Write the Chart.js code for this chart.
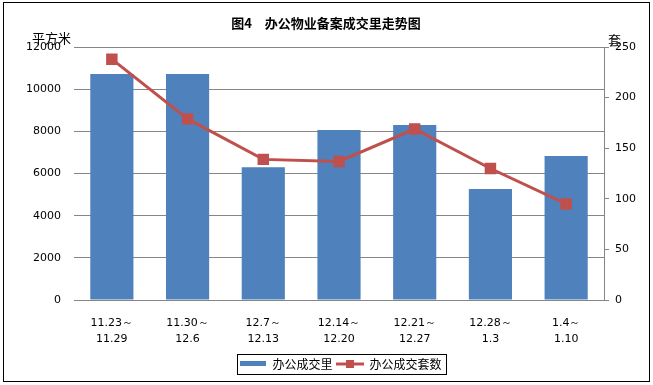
<!DOCTYPE html>
<html>
<head>
<meta charset="utf-8">
<script src="https://cdn.jsdelivr.net/npm/chart.js@4/dist/chart.umd.min.js"></script>
<style>
  html, body { margin: 0; padding: 0; background: #fff; }
  #wrap { width: 653px; height: 385px; position: relative; }
</style>
</head>
<body>
<div id="wrap"><canvas id="officeChart" width="653" height="385"></canvas></div>
<script>
const weeks = [
    ['11.23～', '11.29'],
    ['11.30～', '12.6'],
    ['12.7～', '12.13'],
    ['12.14～', '12.20'],
    ['12.21～', '12.27'],
    ['12.28～', '1.3'],
    ['1.4～', '1.10']
];
const areaSold = [10720, 10720, 6300, 8060, 8300, 5270, 6830];
const unitsSold = [238, 179, 139, 137, 169, 130, 95];
const leftTicks = [0, 2000, 4000, 6000, 8000, 10000, 12000];
const rightTicks = [0, 50, 100, 150, 200, 250];

const cnFont = '"Noto Sans CJK SC", "DejaVu Sans", sans-serif';
const numFont = '"DejaVu Sans", sans-serif';
const legendShift = 14;

function swatch(w, h, draw) {
    const c = document.createElement('canvas');
    c.width = w;
    c.height = h;
    draw(c.getContext('2d'));
    return c;
}
const barIcon = swatch(26, 6, ctx => {
    ctx.fillStyle = '#4F81BD';
    ctx.fillRect(0, 0, 26, 5);
});
const lineIcon = swatch(28, 10, ctx => {
    ctx.strokeStyle = '#C0504D';
    ctx.lineWidth = 3;
    ctx.beginPath();
    ctx.moveTo(0, 5);
    ctx.lineTo(28, 5);
    ctx.stroke();
    ctx.fillStyle = '#C0504D';
    ctx.fillRect(10, 1, 8, 8);
});

const decorations = {
    id: 'decorations',
    afterLayout(chart) {
        // the legend sits a bit right of centre in the original
        chart.legend.left += legendShift;
        chart.legend.right += legendShift;
    },
    afterDraw(chart) {
        const ctx = chart.ctx;
        ctx.save();
        // outer frame
        ctx.strokeStyle = '#000';
        ctx.lineWidth = 1;
        ctx.strokeRect(3.5, 2.5, 646, 379);
        // title
        ctx.fillStyle = '#000';
        ctx.font = 'bold 13px ' + cnFont;
        ctx.textAlign = 'center';
        ctx.textBaseline = 'middle';
        ctx.fillText('图4　办公物业备案成交里走势图', 326, 23);
        // axis unit labels
        ctx.font = '13px ' + cnFont;
        ctx.textAlign = 'left';
        ctx.fillText('平方米', 32, 38);
        ctx.fillText('套', 608, 40);
        // legend frame around the items only
        const boxes = chart.legend.legendHitBoxes;
        if (boxes && boxes.length) {
            const l = Math.min(...boxes.map(b => b.left)) - 2;
            const r = Math.max(...boxes.map(b => b.left + b.width)) + 5;
            const t = Math.min(...boxes.map(b => b.top)) - 4;
            ctx.strokeRect(Math.round(l) + 0.5, Math.round(t) + 0.5, Math.round(r - l), 20);
        }
        ctx.restore();
    }
};

new Chart(document.getElementById('officeChart'), {
    data: {
        labels: weeks,
        datasets: [{
            type: 'line',
            label: '办公成交套数',
            data: unitsSold,
            yAxisID: 'yRight',
            borderColor: '#C0504D',
            backgroundColor: '#C0504D',
            borderWidth: 3,
            pointStyle: 'rect',
            pointRadius: 6,
            pointHoverRadius: 6,
            tension: 0,
            order: 0
        }, {
            type: 'bar',
            label: '办公成交里',
            data: areaSold,
            yAxisID: 'yLeft',
            backgroundColor: '#4F81BD',
            categoryPercentage: 1,
            barPercentage: 0.57,
            order: 1
        }]
    },
    options: {
        responsive: false,
        animation: false,
        layout: {
            padding: { top: 47, left: 0, right: 0, bottom: 5 }
        },
        plugins: {
            title: { display: false },
            tooltip: { enabled: false },
            legend: {
                position: 'bottom',
                reverse: true,
                labels: {
                    usePointStyle: true,
                    pointStyleWidth: 27,
                    color: '#000',
                    padding: 4,
                    font: { family: cnFont, size: 12 },
                    generateLabels(chart) {
                        return chart.data.datasets.map((ds, i) => ({
                            text: ds.label,
                            pointStyle: ds.type === 'bar' ? barIcon : lineIcon,
                            fillStyle: ds.backgroundColor,
                            strokeStyle: ds.backgroundColor,
                            lineWidth: 0,
                            hidden: false,
                            datasetIndex: i,
                            fontColor: '#000'
                        }));
                    }
                }
            }
        },
        scales: {
            x: {
                grid: { display: false },
                border: { display: true, color: '#868686' },
                ticks: {
                    color: '#000',
                    maxRotation: 0,
                    padding: 7,
                    font: { family: numFont, size: 11, lineHeight: 1.45 }
                }
            },
            yLeft: {
                position: 'left',
                min: 0,
                max: 12000,
                afterBuildTicks(scale) {
                    scale.ticks = leftTicks.map(v => ({ value: v }));
                },
                afterFit(scale) {
                    scale.width = 74;
                },
                grid: { color: '#868686', tickLength: 0 },
                border: { display: false },
                ticks: {
                    color: '#000',
                    padding: 13,
                    font: { family: numFont, size: 11 },
                    callback: v => String(v)
                }
            },
            yRight: {
                position: 'right',
                min: 0,
                max: 250,
                afterBuildTicks(scale) {
                    scale.ticks = rightTicks.map(v => ({ value: v }));
                },
                afterFit(scale) {
                    scale.width = 49;
                },
                grid: { drawOnChartArea: false, color: '#868686', tickLength: 5 },
                border: { display: true, color: '#868686' },
                ticks: {
                    color: '#000',
                    padding: 6,
                    font: { family: numFont, size: 11 },
                    callback: v => String(v)
                }
            }
        }
    },
    plugins: [decorations]
});
</script>
</body>
</html>
